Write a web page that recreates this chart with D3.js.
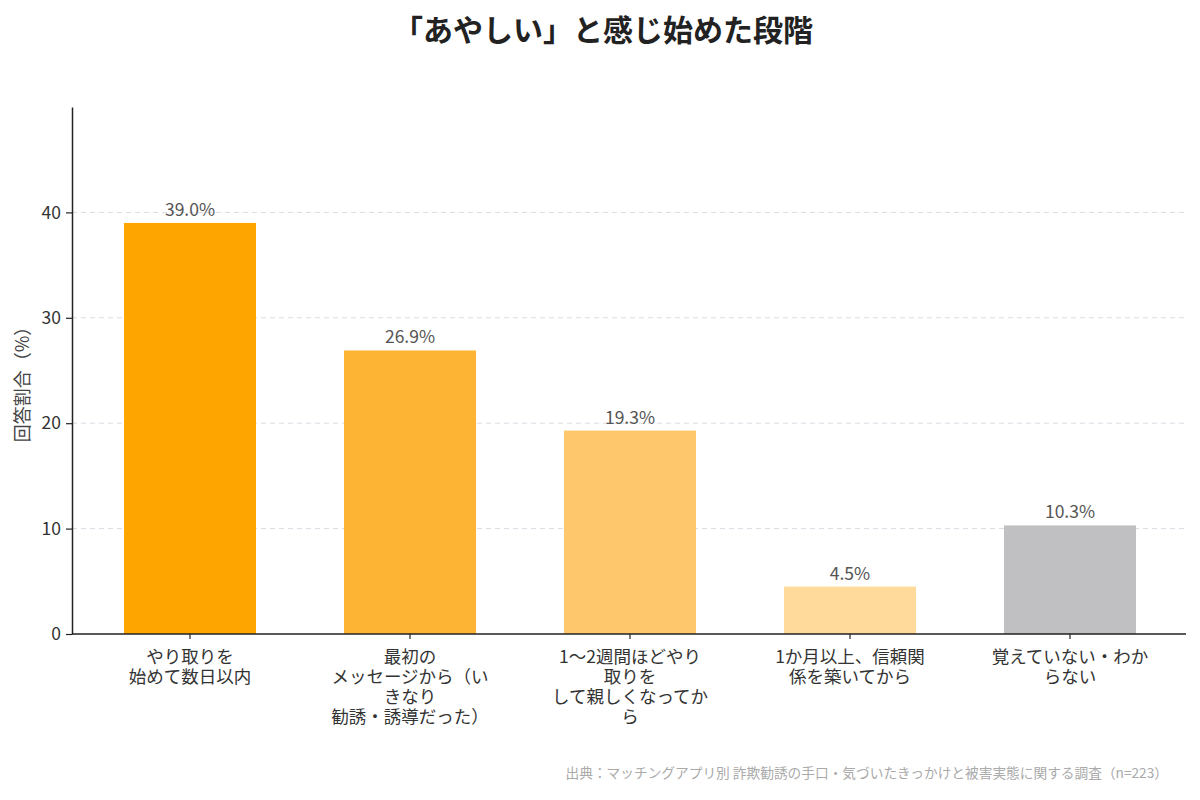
<!DOCTYPE html>
<meta charset="utf-8">
<head>
  <title>あやしいと感じ始めた段階</title>
</head>

<style>
body {
  margin: 0;
  background: #fff;
  font-family: "Noto Sans CJK JP", "Noto Sans", sans-serif;
}
</style>

<body>
  <div id="content">
    <svg width="1200" height="800"></svg>
  </div>

  <script src="https://cdnjs.cloudflare.com/ajax/libs/d3/7.8.5/d3.min.js"></script>

  <script>
var categories = [
  ['やり取りを', '始めて数日以内'],
  ['最初の', 'メッセージから（い', 'きなり', '勧誘・誘導だった）'],
  ['1〜2週間ほどやり', '取りを', 'して親しくなってか', 'ら'],
  ['1か月以上、信頼関', '係を築いてから'],
  ['覚えていない・わか', 'らない']
];
var values = [39.0, 26.9, 19.3, 4.5, 10.3];
var colors = ['#ffa500', '#fdb333', '#fec76b', '#ffda9a', '#c0bfc2'];
var yTicks = [0, 10, 20, 30, 40];

var svg = d3.select('#content svg');
var ids = d3.range(values.length);

var x = d3.scaleBand()
  .domain(ids)
  .range([80, 1180])
  .paddingInner(0.4)
  .paddingOuter(0.2);

var y = d3.scaleLinear()
  .domain([0, 50])
  .range([634, 107]);

// Grid
svg.append('g')
  .selectAll('line')
  .data(yTicks.slice(1))
  .join('line')
  .attr('x1', 72)
  .attr('x2', 1186)
  .attr('y1', function(d) { return y(d); })
  .attr('y2', function(d) { return y(d); })
  .attr('stroke', '#dcdbe6')
  .attr('stroke-width', 1)
  .attr('stroke-dasharray', '5,4');

// Bars
svg.append('g')
  .selectAll('rect')
  .data(ids)
  .join('rect')
  .attr('x', function(i) { return x(i); })
  .attr('width', x.bandwidth())
  .attr('y', function(i) { return y(values[i]); })
  .attr('height', function(i) { return y(0) - y(values[i]); })
  .attr('fill', function(i) { return colors[i]; });

// Value labels
svg.append('g')
  .selectAll('text')
  .data(ids)
  .join('text')
  .attr('x', function(i) { return x(i) + x.bandwidth() / 2; })
  .attr('y', function(i) { return y(values[i]) - 7; })
  .attr('text-anchor', 'middle')
  .attr('font-size', 17.5)
  .attr('fill', '#555')
  .text(function(i) { return values[i].toFixed(1) + '%'; });

// Y axis
var yAxis = svg.append('g')
  .attr('transform', 'translate(72,0)')
  .call(d3.axisLeft(y).tickValues(yTicks).tickSizeInner(6).tickSizeOuter(0).tickPadding(5));
yAxis.select('.domain').attr('stroke', '#222').attr('stroke-width', 1.5);
yAxis.selectAll('.tick line').attr('stroke', '#222').attr('stroke-width', 1.2);
yAxis.selectAll('.tick text')
  .attr('font-size', 17.5)
  .attr('fill', '#333')
  .attr('font-family', '"Noto Sans CJK JP", sans-serif');

// X axis
var xAxis = svg.append('g')
  .attr('transform', 'translate(0,634)')
  .call(d3.axisBottom(x).tickSize(5).tickFormat(''));
xAxis.select('.domain').remove();
xAxis.selectAll('.tick line').attr('stroke', '#222').attr('stroke-width', 1.2);
svg.append('line')
  .attr('x1', 72).attr('x2', 1186)
  .attr('y1', 634).attr('y2', 634)
  .attr('stroke', '#222')
  .attr('stroke-width', 1.5);

// X labels
var labels = svg.append('g')
  .selectAll('text')
  .data(ids)
  .join('text')
  .attr('text-anchor', 'middle')
  .attr('font-size', 17.5)
  .attr('fill', '#333');
labels.each(function(i) {
  var t = d3.select(this);
  categories[i].forEach(function(line, k) {
    t.append('tspan')
      .attr('x', x(i) + x.bandwidth() / 2)
      .attr('y', 663 + k * 20)
      .text(line);
  });
});

// Y label
svg.append('text')
  .attr('transform', 'translate(29,380) rotate(-90)')
  .attr('text-anchor', 'middle')
  .attr('font-size', 18)
  .attr('fill', '#444')
  .text('回答割合（%）');

// Title
svg.append('text')
  .attr('x', 603)
  .attr('y', 41)
  .attr('text-anchor', 'middle')
  .attr('font-size', 30)
  .attr('font-weight', 'bold')
  .attr('fill', '#222')
  .text('「あやしい」と感じ始めた段階');

// Source
svg.append('text')
  .attr('x', 1168)
  .attr('y', 778)
  .attr('text-anchor', 'end')
  .attr('font-size', 13.7)
  .attr('fill', '#aaa')
  .text('出典：マッチングアプリ別 詐欺勧誘の手口・気づいたきっかけと被害実態に関する調査（n=223）');
  </script>
</body>
</html>
